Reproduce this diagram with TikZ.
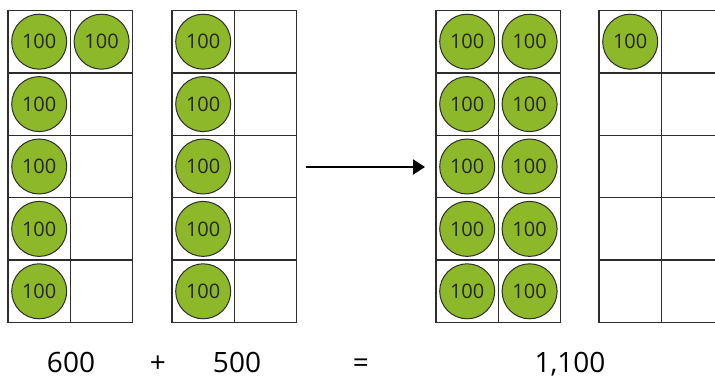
\documentclass[tikz,border=0pt]{standalone}
\usepackage{fontspec}
\setmainfont{Open Sans}
\usetikzlibrary{arrows.meta}
\definecolor{chipgreen}{RGB}{141,184,41}
\definecolor{inkgray}{RGB}{45,45,45}
\begin{document}
\begin{tikzpicture}[x=1pt,y=-1pt,
  cellbox/.style={draw=inkgray, line width=1.3pt},
  chip/.style={circle, draw=inkgray, line width=1pt, fill=chipgreen,
    minimum size=55pt, inner sep=0pt, text=black!85,
    font=\fontsize{20}{20}\selectfont},
  sumtext/.style={anchor=base, inner sep=0pt, font=\fontsize{28}{28}\selectfont},
  flow/.style={line width=2pt, -{Triangle[length=12pt,width=15pt]}}]
\useasboundingbox (0,0) rectangle (715,379);
\clip (0,0) rectangle (715,379);
\def\cs{62.4}
% ten-frames (2 columns x 5 rows)
\foreach \fr/\fx in {a/8,b/172,c/436,d/599}{
  \foreach \r in {0,...,4}{
    \foreach \c in {0,1}{
      \draw[cellbox] (\fx+\c*\cs,10.5+\r*\cs) rectangle ++(\cs,\cs);
      \coordinate (\fr-\r-\c) at (\fx+\c*\cs+\cs/2,10.5+\r*\cs+\cs/2);
    }
  }
}
% hundred counters
\foreach \fr/\r/\c in {a/0/0,a/0/1,a/1/0,a/2/0,a/3/0,a/4/0,
                       b/0/0,b/1/0,b/2/0,b/3/0,b/4/0,
                       c/0/0,c/0/1,c/1/0,c/1/1,c/2/0,c/2/1,c/3/0,c/3/1,c/4/0,c/4/1,
                       d/0/0}{
  \node[chip] (chip-\fr-\r-\c) at (\fr-\r-\c) {100};
}
% regrouping arrow
\coordinate (arrowtail) at (306,167);
\coordinate (arrowhead) at (425,167);
\draw[flow] (arrowtail) -- (arrowhead);
% number sentence
\node[sumtext] (n600) at (71,373) {600};
\node[sumtext] (plus) at (158,373) {+};
\node[sumtext] (n500) at (237,373) {500};
\node[sumtext] (eq) at (361,373) {=};
\node[sumtext] (n1100) at (570,373) {1,100};
\end{tikzpicture}
\end{document}
